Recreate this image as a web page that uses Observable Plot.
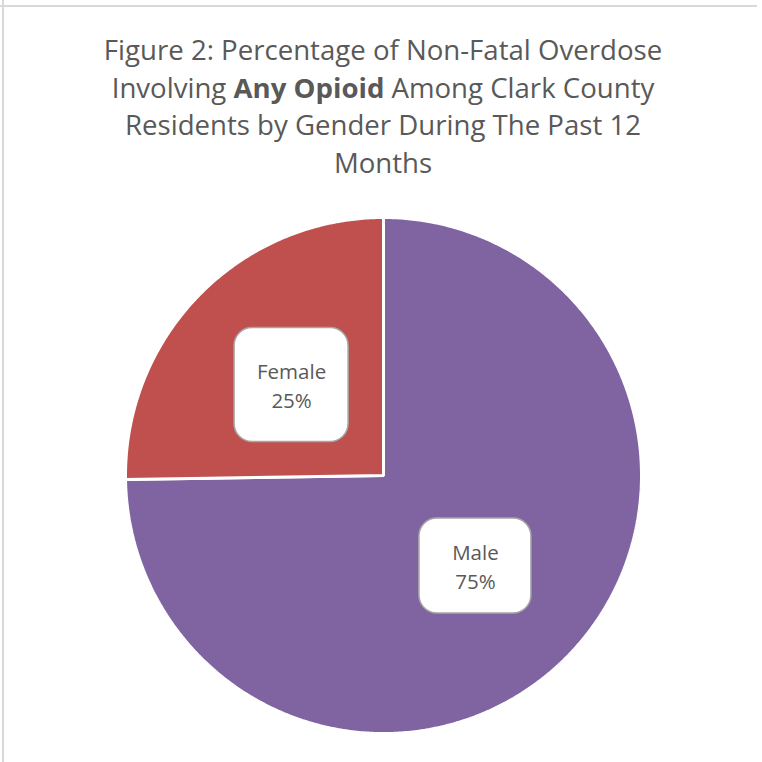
<!DOCTYPE html>
<html>
<head>
<meta charset="utf-8">
<script src="https://cdn.jsdelivr.net/npm/d3@7"></script>
<script src="https://cdn.jsdelivr.net/npm/@observablehq/plot@0.6"></script>
<style>
  html, body { margin: 0; padding: 0; background: #fff; }
  #wrap { position: relative; width: 762px; height: 762px; overflow: hidden; background: #fff; }
  #topline { position: absolute; left: 0; top: 5px; width: 757px; height: 2px; background: #d9d9d9; }
  #leftline { position: absolute; left: 2px; top: 0; width: 2px; height: 762px; background: #d9d9d9; }
  #title { position: absolute; left: 0; top: 31px; width: 766px; text-align: center;
           font-family: "Open Sans", sans-serif; font-size: 27.6px; line-height: 37.5px; color: #595959; }
  #title b { font-weight: 700; }
  #chart { position: absolute; left: 0; top: 0; }
</style>
</head>
<body>
<div id="wrap">
  <div id="chart"></div>
  <div id="topline"></div>
  <div id="leftline"></div>
  <div id="title">Figure 2: Percentage of Non-Fatal Overdose<br>Involving <b>Any Opioid</b> Among Clark County<br>Residents by Gender During The Past 12<br>Months</div>
</div>
<script>
// Data
const categories = ["Male", "Female"];
const values = [74.75, 25.25];
const valueLabels = ["75%", "25%"];
const colors = ["#8064A2", "#C0504D"];

// Layout (pixels)
const W = 762, H = 762;
const cx = 383, cy = 475, R = 258;
const boxSizes = [[112, 95], [114, 114]];

const arcs = d3.pie().sort(null).startAngle(0).endAngle(2 * Math.PI)(values);

// polygon points for each slice (angles clockwise from 12 o'clock, y downward)
const pts = [];
arcs.forEach((a, i) => {
  const cat = categories[i];
  pts.push({cat, x: 0, y: 0});
  const n = Math.max(2, Math.ceil((a.endAngle - a.startAngle) / (Math.PI / 360)));
  for (let k = 0; k <= n; k++) {
    const t = a.startAngle + (a.endAngle - a.startAngle) * k / n;
    pts.push({cat, x: R * Math.sin(t), y: -R * Math.cos(t)});
  }
});

const labels = arcs.map((a, i) => {
  const mid = (a.startAngle + a.endAngle) / 2;
  const x = 0.5 * R * Math.sin(mid), y = -0.5 * R * Math.cos(mid);
  const [bw, bh] = boxSizes[i];
  return {cat: categories[i], text: categories[i] + "\n" + valueLabels[i], x, y,
          x1: x - bw / 2, x2: x + bw / 2, y1: y - bh / 2, y2: y + bh / 2};
});

const sliceMarks = categories.map((c, i) =>
  Plot.line(pts.filter(d => d.cat === c), {
    x: "x", y: "y", curve: "linear-closed",
    fill: colors[i], stroke: "white", strokeWidth: 3, strokeLinejoin: "miter"
  })
);

const chart = Plot.plot({
  width: W, height: H,
  margin: 0,
  x: {domain: [-cx, W - cx], range: [0, W], axis: null},
  y: {domain: [-cy, H - cy], range: [0, H], axis: null},
  style: {fontFamily: "Open Sans", background: "transparent"},
  marks: [
    ...sliceMarks,
    Plot.rect(labels, {x1: "x1", x2: "x2", y1: "y1", y2: "y2", fill: "white",
                        stroke: "#a6a6a6", strokeWidth: 1.5, rx: 18, ry: 18}),
    Plot.text(labels, {x: "x", y: "y", dy: -1, text: "text", fill: "#595959", fontSize: 20.5,
                        lineHeight: 1.45, fontFamily: "Open Sans"})
  ]
});
document.getElementById("chart").appendChild(chart);
</script>
</body>
</html>
